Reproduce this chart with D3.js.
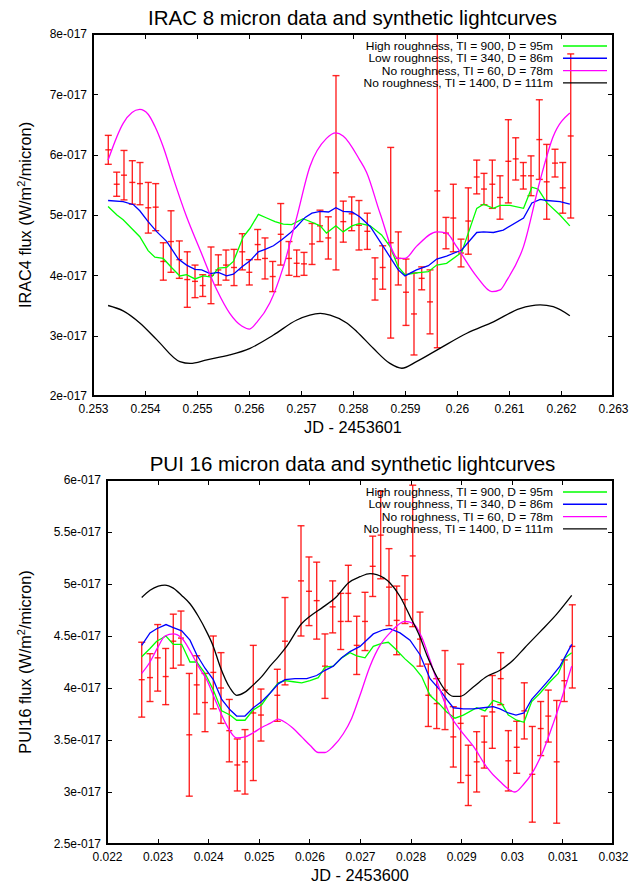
<!DOCTYPE html>
<meta charset="utf-8">
<head>
<title>IRAC / PUI synthetic lightcurves</title>
<script src="https://d3js.org/d3.v7.min.js"></script>
<style>
body { margin: 0; background: #fff; }
svg { font-family: "Liberation Sans", Arial, Helvetica, sans-serif; }
.axis text { font-size: 12px; fill: #000; }
.axis line, .axis path { fill: none; stroke: #000; shape-rendering: crispEdges; }
.frame { fill: none; stroke: #000; stroke-width: 1.4; shape-rendering: crispEdges; }
.title { font-size: 20.5px; }
.label { font-size: 16.3px; }
.legend text { font-size: 12px; }
.model { fill: none; stroke-width: 1.3; }
.err { stroke: #f00; stroke-width: 1.4; stroke-opacity: 0.85; }
</style>
</head>
<body>
<script>

// all flux values are in units of 1e-17 W/m^2/micron
var fluxUnit = "e-017";

// ---- IRAC 8 micron : [JD - 2453601, flux, error]
var irac_data = [
  [0.253294,6.08,0.24],[0.253456,5.51,0.20],[0.253596,5.66,0.41],[0.253756,5.54,0.36],
  [0.253904,5.52,0.35],[0.254063,5.12,0.42],[0.254206,5.13,0.39],[0.254352,4.23,0.31],
  [0.254500,4.56,0.51],[0.254660,4.26,0.31],[0.254813,3.93,0.46],[0.254962,3.90,0.27],
  [0.255110,3.83,0.18],[0.255269,4.00,0.47],[0.255410,4.09,0.25],[0.255558,4.17,0.25],
  [0.255712,4.13,0.30],[0.255871,4.39,0.30],[0.256006,4.05,0.21],[0.256167,4.51,0.25],
  [0.256308,4.28,0.34],[0.256456,3.98,0.25],[0.256610,4.68,0.51],[0.256769,4.28,0.28],
  [0.256917,4.20,0.22],[0.257058,4.19,0.19],[0.257212,4.52,0.34],[0.257365,4.82,0.26],
  [0.257525,4.62,0.35],[0.257673,5.70,1.61],[0.257813,4.89,0.34],[0.257975,5.02,0.28],
  [0.258115,4.83,0.41],[0.258275,4.73,0.30],[0.258423,3.94,0.35],[0.258571,4.13,0.36],
  [0.258725,4.54,1.58],[0.258871,4.28,0.44],[0.259019,3.72,0.55],[0.259173,3.36,0.68],
  [0.259321,3.95,0.19],[0.259481,3.56,0.53],[0.259621,5.40,2.60],[0.259788,4.70,0.26],
  [0.259929,4.95,0.56],[0.260077,4.37,0.23],[0.260217,4.90,0.55],[0.260379,5.63,0.28],
  [0.260519,5.43,0.26],[0.260679,5.51,0.40],[0.260827,5.29,0.36],[0.260987,5.89,0.69],
  [0.261129,5.93,0.35],[0.261275,5.65,0.22],[0.261423,5.65,0.33],[0.261583,6.25,0.66],
  [0.261725,5.55,0.62],[0.261885,5.86,0.23],[0.262033,5.45,0.42],[0.262187,6.31,1.36]
];

var irac_high = [
  [0.25329,5.14],[0.25346,5.00],[0.25358,4.92],[0.25374,4.78],[0.25390,4.64],[0.25406,4.41],
  [0.25419,4.30],[0.25435,4.28],[0.25451,4.13],[0.25467,3.99],[0.25480,4.01],[0.25496,3.94],
  [0.25512,3.99],[0.25528,3.97],[0.25541,4.12],[0.25557,4.13],[0.25570,4.23],[0.25589,4.64],
  [0.25602,4.78],[0.25618,5.01],[0.25634,4.95],[0.25650,4.89],[0.25666,4.85],[0.25682,4.84],
  [0.25704,4.94],[0.25721,4.88],[0.25737,4.82],[0.25749,4.70],[0.25767,4.82],[0.25781,4.72],
  [0.25798,4.82],[0.25813,4.86],[0.25833,4.82],[0.25855,4.67],[0.25871,4.48],[0.25887,4.14],
  [0.25900,4.01],[0.25922,4.04],[0.25945,4.06],[0.25961,4.17],[0.25980,4.20],[0.26009,4.38],
  [0.26038,5.11],[0.26051,5.18],[0.26070,5.11],[0.26083,5.16],[0.26102,5.16],[0.26128,5.11],
  [0.26144,5.46],[0.26156,5.43],[0.26173,5.20],[0.26198,5.00],[0.26217,4.82]
];

var irac_low = [
  [0.25329,5.24],[0.25358,5.22],[0.25378,5.17],[0.25390,5.07],[0.25406,4.89],[0.25423,4.72],
  [0.25442,4.56],[0.25464,4.27],[0.25480,4.17],[0.25496,4.10],[0.25509,4.09],[0.25525,4.03],
  [0.25541,4.05],[0.25557,3.99],[0.25570,4.02],[0.25586,4.14],[0.25602,4.24],[0.25618,4.39],
  [0.25631,4.43],[0.25647,4.49],[0.25663,4.59],[0.25679,4.70],[0.25692,4.81],[0.25708,4.96],
  [0.25721,5.03],[0.25737,5.06],[0.25753,5.05],[0.25767,5.12],[0.25781,5.06],[0.25798,5.05],
  [0.25813,4.97],[0.25833,4.81],[0.25858,4.48],[0.25887,4.09],[0.25900,3.99],[0.25922,4.09],
  [0.25945,4.16],[0.25961,4.27],[0.25980,4.32],[0.26009,4.42],[0.26038,4.71],[0.26051,4.72],
  [0.26070,4.71],[0.26089,4.75],[0.26128,4.95],[0.26144,5.20],[0.26160,5.26],[0.26173,5.24],
  [0.26198,5.22],[0.26217,5.18]
];

var irac_none60 = [
  [0.25329,5.91],[0.25358,6.52],[0.25390,6.75],[0.25406,6.67],[0.25419,6.47],[0.25435,6.13],
  [0.25454,5.62],[0.25480,4.97],[0.25506,4.42],[0.25538,3.76],[0.25563,3.37],[0.25586,3.16],
  [0.25601,3.11],[0.25615,3.22],[0.25640,3.54],[0.25666,4.14],[0.25692,4.97],[0.25717,5.80],
  [0.25749,6.27],[0.25767,6.36],[0.25781,6.31],[0.25813,5.91],[0.25826,5.71],[0.25852,5.03],
  [0.25887,4.28],[0.25900,4.28],[0.25922,4.48],[0.25961,4.72],[0.25980,4.70],[0.25999,4.48],
  [0.26038,3.98],[0.26067,3.73],[0.26083,3.76],[0.26096,3.92],[0.26128,4.48],[0.26160,5.58],
  [0.26185,6.30],[0.26217,6.69]
];

var irac_none1400 = [
  [0.25329,3.50],[0.25358,3.41],[0.25390,3.21],[0.25423,2.93],[0.25467,2.57],[0.25487,2.54],
  [0.25519,2.60],[0.25563,2.68],[0.25602,2.79],[0.25647,3.01],[0.25692,3.26],[0.25737,3.37],
  [0.25756,3.34],[0.25788,3.21],[0.25807,3.07],[0.25839,2.79],[0.25871,2.54],[0.25894,2.46],
  [0.25922,2.57],[0.25967,2.79],[0.26019,3.04],[0.26070,3.23],[0.26121,3.45],[0.26160,3.51],
  [0.26185,3.48],[0.26217,3.33]
];

// ---- PUI 16 micron : [JD - 2453600, flux, error]
var pui_data = [
  [0.022686,4.08,0.36],[0.022850,4.10,0.23],[0.023002,4.29,0.32],[0.023160,4.11,0.27],
  [0.023310,4.45,0.26],[0.023462,4.48,0.26],[0.023626,3.55,0.59],[0.023773,4.03,0.28],
  [0.023937,3.86,0.28],[0.024101,4.15,0.35],[0.024253,4.00,0.34],[0.024417,3.59,0.30],
  [0.024575,3.26,0.25],[0.024727,3.29,0.31],[0.024891,3.76,0.65],[0.025043,3.74,0.25],
  [0.025366,3.93,0.25],[0.025518,4.45,0.42],[0.025834,5.03,0.53],[0.025992,4.93,0.33],
  [0.026144,4.84,0.37],[0.026308,4.21,0.31],[0.026460,4.78,0.25],[0.026619,4.64,0.27],
  [0.026769,4.91,0.27],[0.026935,4.41,0.28],[0.027099,4.64,0.28],[0.027251,5.17,0.29],
  [0.027409,5.47,0.42],[0.027573,4.97,0.37],[0.027725,4.65,0.33],[0.027889,4.85,0.23],
  [0.028042,5.27,0.68],[0.028186,4.47,0.26],[0.028350,3.93,0.30],[0.028516,3.85,0.24],
  [0.028680,3.98,0.38],[0.028844,3.53,0.29],[0.028990,3.66,0.57],[0.029140,3.16,0.29],
  [0.029306,3.29,0.29],[0.029456,3.48,0.25],[0.029615,3.77,0.35],[0.029781,4.09,0.25],
  [0.029931,3.30,0.29],[0.030097,3.43,0.25],[0.030247,3.78,0.27],[0.030405,3.17,0.46],
  [0.030571,3.61,0.26],[0.030721,3.73,0.25],[0.030887,3.29,0.59],[0.031037,4.07,0.20],
  [0.031196,4.40,0.40]
];

var pui_high = [
  [0.022686,4.30],[0.022850,4.38],[0.022982,4.45],[0.023166,4.50],[0.023310,4.42],[0.023476,4.42],
  [0.023640,4.25],[0.023773,4.25],[0.023937,4.14],[0.024101,3.98],[0.024267,3.78],[0.024431,3.74],
  [0.024563,3.69],[0.024727,3.69],[0.024891,3.79],[0.025057,3.84],[0.025221,3.95],[0.025385,4.05],
  [0.025518,4.07],[0.025682,4.06],[0.025848,4.05],[0.026012,4.07],[0.026176,4.10],[0.026308,4.20],
  [0.026472,4.21],[0.026638,4.29],[0.026802,4.34],[0.026935,4.31],[0.027099,4.29],[0.027263,4.40],
  [0.027429,4.43],[0.027559,4.44],[0.027692,4.38],[0.027889,4.28],[0.028053,4.21],[0.028219,4.11],
  [0.028383,3.93],[0.028581,3.84],[0.028713,3.77],[0.028877,3.71],[0.029042,3.74],[0.029306,3.81],
  [0.029470,3.78],[0.029634,3.88],[0.029800,3.85],[0.029931,3.74],[0.030097,3.69],[0.030241,3.67],
  [0.030393,3.87],[0.030557,3.95],[0.030755,4.06],[0.030919,4.14],[0.031051,4.29],[0.031184,4.34]
];

var pui_low = [
  [0.022686,4.41],[0.022850,4.53],[0.022982,4.57],[0.023166,4.61],[0.023310,4.58],[0.023476,4.55],
  [0.023640,4.46],[0.023773,4.32],[0.023937,4.19],[0.024101,4.08],[0.024267,3.89],[0.024431,3.79],
  [0.024563,3.73],[0.024727,3.73],[0.024891,3.81],[0.025057,3.87],[0.025221,3.95],[0.025385,4.04],
  [0.025518,4.08],[0.025715,4.09],[0.025947,4.09],[0.026144,4.12],[0.026308,4.17],[0.026472,4.21],
  [0.026638,4.29],[0.026802,4.35],[0.027000,4.40],[0.027263,4.52],[0.027461,4.56],[0.027593,4.57],
  [0.027791,4.53],[0.027988,4.46],[0.028186,4.32],[0.028383,4.09],[0.028581,3.98],[0.028713,3.89],
  [0.028844,3.81],[0.029042,3.80],[0.029239,3.80],[0.029437,3.81],[0.029634,3.82],[0.029767,3.80],
  [0.029931,3.76],[0.030083,3.74],[0.030241,3.76],[0.030393,3.89],[0.030557,3.98],[0.030755,4.09],
  [0.030953,4.21],[0.031184,4.42]
];

var pui_none60 = [
  [0.022686,4.14],[0.022850,4.25],[0.023014,4.40],[0.023146,4.50],[0.023310,4.52],[0.023476,4.48],
  [0.023640,4.36],[0.023804,4.21],[0.023970,4.08],[0.024168,3.85],[0.024366,3.64],[0.024563,3.52],
  [0.024727,3.53],[0.024891,3.57],[0.025057,3.62],[0.025221,3.66],[0.025385,3.70],[0.025484,3.68],
  [0.025682,3.61],[0.025848,3.53],[0.026012,3.45],[0.026176,3.38],[0.026308,3.38],[0.026472,3.44],
  [0.026670,3.56],[0.026836,3.71],[0.027000,3.93],[0.027198,4.21],[0.027395,4.41],[0.027593,4.53],
  [0.027889,4.64],[0.028053,4.62],[0.028219,4.49],[0.028383,4.27],[0.028581,3.98],[0.028779,3.74],
  [0.028976,3.60],[0.029239,3.44],[0.029504,3.24],[0.029767,3.10],[0.030063,3.00],[0.030227,3.07],
  [0.030425,3.20],[0.030623,3.40],[0.030820,3.66],[0.031018,3.95],[0.031184,4.21]
];

var pui_none1400 = [
  [0.022686,4.87],[0.022850,4.94],[0.023014,4.98],[0.023146,4.99],[0.023310,4.96],[0.023476,4.89],
  [0.023640,4.81],[0.023804,4.69],[0.023970,4.54],[0.024101,4.40],[0.024233,4.21],[0.024431,4.00],
  [0.024563,3.93],[0.024727,3.96],[0.024891,4.03],[0.025057,4.11],[0.025221,4.21],[0.025385,4.30],
  [0.025551,4.40],[0.025848,4.62],[0.026012,4.69],[0.026275,4.78],[0.026540,4.88],[0.026769,5.01],
  [0.027000,5.07],[0.027198,5.10],[0.027330,5.09],[0.027593,5.01],[0.027791,4.88],[0.027988,4.69],
  [0.028186,4.49],[0.028318,4.32],[0.028516,4.11],[0.028680,3.98],[0.028844,3.92],[0.028976,3.92],
  [0.029239,4.01],[0.029504,4.11],[0.029767,4.17],[0.030030,4.27],[0.030261,4.39],[0.030558,4.54],
  [0.030887,4.71],[0.031184,4.89]
];

var modelNames = [
  "High roughness, TI = 900, D = 95m",
  "Low roughness, TI = 340, D = 86m",
  "No roughness, TI = 60, D = 78m",
  "No roughness, TI = 1400, D = 111m"
];
var modelColors = ["#00ff00", "#0000ff", "#ff00ff", "#000000"];

var irac_xticks = [0.253,0.254,0.255,0.256,0.257,0.258,0.259,0.26,0.261,0.262,0.263];
var irac_yticks = [2,3,4,5,6,7,8];
var pui_xticks = [0.022,0.023,0.024,0.025,0.026,0.027,0.028,0.029,0.03,0.031,0.032];
var pui_yticks = [2.5,3,3.5,4,4.5,5,5.5,6];

var svg = d3.select("body").append("svg")
    .attr("width", 630)
    .attr("height", 885);

function drawPanel(p) {
  var width = p.right - p.left,
      height = p.bottom - p.top;

  var x = d3.scaleLinear().domain(p.xDomain).range([0, width]);
  var y = d3.scaleLinear().domain(p.yDomain).range([height, 0]);

  var g = svg.append("g")
      .attr("transform", "translate(" + p.left + "," + p.top + ")");

  g.append("clipPath").attr("id", p.id + "-clip")
    .append("rect").attr("width", width).attr("height", height);

  // axes with inward ticks, mirrored on top and right
  g.append("g").attr("class", "axis")
      .attr("transform", "translate(0," + height + ")")
      .call(d3.axisBottom(x).tickValues(p.xTicks).tickSize(-5).tickSizeOuter(0)
            .tickPadding(8).tickFormat(function(d) { return String(+d.toFixed(3)); }));
  g.append("g").attr("class", "axis")
      .call(d3.axisTop(x).tickValues(p.xTicks).tickSize(-5).tickSizeOuter(0).tickFormat(""));
  g.append("g").attr("class", "axis")
      .call(d3.axisLeft(y).tickValues(p.yTicks).tickSize(-5).tickSizeOuter(0)
            .tickPadding(6).tickFormat(function(d) { return d + fluxUnit; }));
  g.append("g").attr("class", "axis")
      .attr("transform", "translate(" + width + ",0)")
      .call(d3.axisRight(y).tickValues(p.yTicks).tickSize(-5).tickSizeOuter(0).tickFormat(""));
  g.selectAll(".axis .domain").remove();

  var plot = g.append("g").attr("clip-path", "url(#" + p.id + "-clip)");

  // error bars
  var bars = plot.selectAll(".bar")
      .data(p.data)
    .enter().append("g")
      .attr("class", "err");
  bars.append("line")
      .attr("x1", function(d) { return x(d[0]); })
      .attr("x2", function(d) { return x(d[0]); })
      .attr("y1", function(d) { return y(d[1] - d[2]); })
      .attr("y2", function(d) { return y(d[1] + d[2]); });
  [-1, 1].forEach(function(s) {
    bars.append("line")
        .attr("x1", function(d) { return x(d[0]) - 3.5; })
        .attr("x2", function(d) { return x(d[0]) + 3.5; })
        .attr("y1", function(d) { return y(d[1] + s * d[2]); })
        .attr("y2", function(d) { return y(d[1] + s * d[2]); });
  });
  // "+" point marker
  bars.append("line")
      .attr("x1", function(d) { return x(d[0]) - 3; })
      .attr("x2", function(d) { return x(d[0]) + 3; })
      .attr("y1", function(d) { return y(d[1]); })
      .attr("y2", function(d) { return y(d[1]); });

  // model lightcurves
  p.models.forEach(function(m, i) {
    var line = d3.line()
        .curve(i >= 2 ? d3.curveMonotoneX : d3.curveLinear)
        .x(function(d) { return x(d[0]); })
        .y(function(d) { return y(d[1]); });
    plot.append("path")
        .datum(m)
        .attr("class", "model")
        .attr("stroke", modelColors[i])
        .attr("d", line);
  });

  g.append("rect").attr("class", "frame")
      .attr("width", width).attr("height", height);

  // legend: rows are packed tight, so glyphs are set a bit smaller
  // and stretched back to the full 12px width
  var leg = g.append("g").attr("class", "legend");
  modelNames.forEach(function(name, i) {
    var ly = 12 + i * 12.3;
    var t = leg.append("text")
        .attr("x", width - 60)
        .attr("y", ly + 4)
        .attr("text-anchor", "end")
        .text(name);
    var w = t.node().getComputedTextLength();
    t.style("font-size", "10.6px")
      .attr("textLength", w)
      .attr("lengthAdjust", "spacingAndGlyphs");
    leg.append("line")
        .attr("x1", width - 50).attr("x2", width - 6)
        .attr("y1", ly).attr("y2", ly)
        .attr("stroke", modelColors[i])
        .attr("stroke-width", 1.4);
  });

  // title and axis labels
  g.append("text")
      .attr("class", "title")
      .attr("x", width / 2 - p.left / 2 + 46)
      .attr("y", -9)
      .attr("text-anchor", "middle")
      .text(p.title);

  g.append("text")
      .attr("class", "label")
      .attr("x", width / 2)
      .attr("y", height + 37)
      .attr("text-anchor", "middle")
      .text(p.xLabel);

  var yl = g.append("text")
      .attr("class", "label")
      .attr("transform", "translate(" + (31 - p.left) + "," + (height / 2) + ") rotate(-90)")
      .attr("text-anchor", "middle");
  yl.append("tspan").text(p.yLabel + " (W/m");
  yl.append("tspan").attr("dy", -6).style("font-size", "11px").text("2");
  yl.append("tspan").attr("dy", 6).text("/micron)");
}

drawPanel({
  id: "irac", left: 93, right: 613, top: 34, bottom: 396,
  xDomain: [0.253, 0.263], yDomain: [2, 8],
  xTicks: irac_xticks, yTicks: irac_yticks,
  data: irac_data,
  models: [irac_high, irac_low, irac_none60, irac_none1400],
  title: "IRAC 8 micron data and synthetic lightcurves",
  xLabel: "JD - 2453601",
  yLabel: "IRAC4 flux"
});

drawPanel({
  id: "pui", left: 107, right: 613, top: 480, bottom: 844,
  xDomain: [0.022, 0.032], yDomain: [2.5, 6],
  xTicks: pui_xticks, yTicks: pui_yticks,
  data: pui_data,
  models: [pui_high, pui_low, pui_none60, pui_none1400],
  title: "PUI 16 micron data and synthetic lightcurves",
  xLabel: "JD - 2453600",
  yLabel: "PUI16 flux"
});

</script>
</body>
